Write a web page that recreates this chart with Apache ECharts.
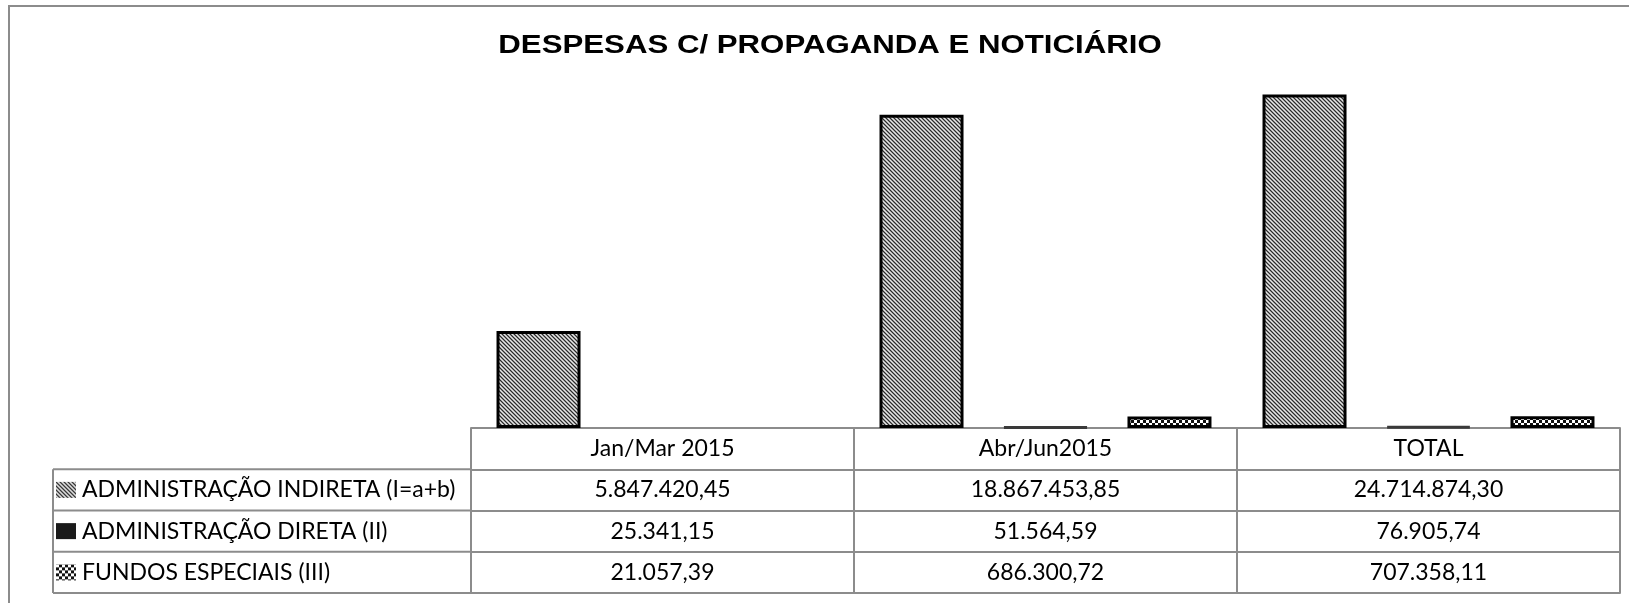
<!DOCTYPE html>
<html>
<head>
<meta charset="utf-8">
<script src="https://cdn.jsdelivr.net/npm/echarts@6/dist/echarts.min.js"></script>
<style>
  html, body { margin: 0; padding: 0; background: #fff; }
  #chart { width: 1629px; height: 603px; }
</style>
</head>
<body>
<div id="chart"></div>
<script>
// dados do gráfico
const categories = ['Jan/Mar 2015', 'Abr/Jun2015', 'TOTAL'];
const seriesNames = ['ADMINISTRAÇÃO INDIRETA (I=a+b)', 'ADMINISTRAÇÃO DIRETA (II)', 'FUNDOS ESPECIAIS (III)'];
const indireta = [5847420.45, 18867453.85, 24714874.30];
const direta = [25341.15, 51564.59, 76905.74];
const fundos = [21057.39, 686300.72, 707358.11];
const yMax = 20000000;
const chartTitle = 'DESPESAS C/ PROPAGANDA E NOTICIÁRIO';

// layout
const gridLeft = 471;
const gridRight = 9;
const gridTop = 96;
const tableTop = 428;
const rowH = 41.25;
const labelColLeft = 53;
const lineColor = '#8c8c8c';
const tableFont = 'Lato';
const tableFontSize = 23;

// formato pt-BR: 5.847.420,45
const fmt = (v) => {
  const [i, d] = v.toFixed(2).split('.');
  return `${i.replace(/\B(?=(\d{3})+(?!\d))/g, '.')},${d}`;
};

// padrões de preenchimento (hachuras)
const makePattern = (size, draw) => {
  const c = document.createElement('canvas');
  c.width = size;
  c.height = size;
  draw(c.getContext('2d'));
  return { image: c, repeat: 'repeat' };
};
const diagPattern = makePattern(4, (ctx) => {
  ctx.fillStyle = '#9a9a9a';
  ctx.fillRect(0, 0, 4, 4);
  for (let i = 0; i < 4; i++) {
    ctx.fillStyle = '#2a2a2a';
    ctx.fillRect(i, i, 1, 1);
    ctx.fillStyle = '#e6e6e6';
    ctx.fillRect((i + 2) % 4, i, 1, 1);
  }
});
const checkPattern = makePattern(6, (ctx) => {
  ctx.fillStyle = '#111';
  ctx.fillRect(0, 0, 6, 6);
  ctx.fillStyle = '#fff';
  ctx.fillRect(0, 0, 3, 3);
  ctx.fillRect(3, 3, 3, 3);
});

const rows = [indireta, direta, fundos];
const styles = [
  { color: diagPattern, borderColor: '#000', borderWidth: 3 },
  { color: '#1a1a1a', borderColor: '#3a3a3a', borderWidth: 3 },
  { color: checkPattern, borderColor: '#000', borderWidth: 3 },
];

// barras quase nulas não aparecem no original
const toData = (arr) => arr.map((v) => (v / yMax < 0.002
  ? { value: v, itemStyle: { borderWidth: 0, opacity: 0 } }
  : v));

const labelBase = {
  interval: 0,
  margin: 0,
  lineHeight: rowH,
  fontSize: tableFontSize,
  fontFamily: tableFont,
  color: '#000',
};

// eixos x empilhados formam as linhas da tabela
const xAxes = [];
for (let k = 0; k <= rows.length + 1; k++) {
  const axis = {
    type: 'category',
    data: categories,
    position: 'bottom',
    offset: k * rowH,
    axisLine: { show: true, lineStyle: { color: lineColor, width: 2 } },
    axisTick: { show: false },
    axisLabel: { show: false },
    splitLine: { show: false },
  };
  if (k === 0) {
    axis.axisTick = { show: true, length: (rows.length + 1) * rowH, lineStyle: { color: lineColor, width: 2 } };
    axis.axisLabel = { ...labelBase };
  } else if (k <= rows.length) {
    const row = rows[k - 1];
    axis.axisLabel = { ...labelBase, formatter: (v, i) => fmt(row[i]) };
  }
  xAxes.push(axis);
}

// moldura, título e linhas da coluna de rótulos
const tableBottom = tableTop + rowH * (rows.length + 1);
const graphics = [
  {
    type: 'rect',
    shape: { x: 9, y: 6, width: 1700, height: 700 },
    style: { fill: 'none', stroke: lineColor, lineWidth: 2 },
    silent: true,
  },
  {
    type: 'text',
    x: 830,
    y: 46,
    scaleX: 1.2,
    style: {
      text: chartTitle,
      fontFamily: 'Liberation Sans',
      fontWeight: 'bold',
      fontSize: 26,
      fill: '#000',
      align: 'center',
      verticalAlign: 'middle',
    },
    silent: true,
  },
  {
    type: 'line',
    shape: { x1: labelColLeft, y1: tableTop + rowH, x2: labelColLeft, y2: tableBottom },
    style: { stroke: lineColor, lineWidth: 2 },
    silent: true,
  },
];
for (let k = 1; k <= rows.length + 1; k++) {
  const y = tableTop + rowH * k;
  graphics.push({
    type: 'line',
    shape: { x1: labelColLeft, y1: y, x2: gridLeft, y2: y },
    style: { stroke: lineColor, lineWidth: 2 },
    silent: true,
  });
}

const chart = echarts.init(document.getElementById('chart'), null, { renderer: 'canvas' });
chart.setOption({
  animation: false,
  backgroundColor: '#fff',
  legend: {
    orient: 'vertical',
    left: 56,
    top: tableTop + rowH,
    padding: 0,
    itemGap: 0,
    itemWidth: 20,
    itemHeight: 16,
    icon: 'rect',
    selectedMode: false,
    itemStyle: { borderWidth: 0 },
    textStyle: {
      fontSize: tableFontSize,
      fontFamily: tableFont,
      color: '#000',
      lineHeight: rowH,
      padding: [0, 0, 0, 1],
    },
    data: seriesNames,
  },
  grid: {
    left: gridLeft,
    right: gridRight,
    top: gridTop,
    bottom: 603 - tableTop,
    containLabel: false,
  },
  xAxis: xAxes,
  yAxis: {
    type: 'value',
    min: 0,
    max: yMax,
    show: false,
    splitLine: { show: false },
  },
  graphic: graphics,
  series: rows.map((arr, i) => ({
    name: seriesNames[i],
    type: 'bar',
    xAxisIndex: 0,
    barWidth: 84,
    barGap: '47.6%',
    clip: true,
    itemStyle: { ...styles[i] },
    data: toData(arr),
  })),
});
</script>
</body>
</html>
